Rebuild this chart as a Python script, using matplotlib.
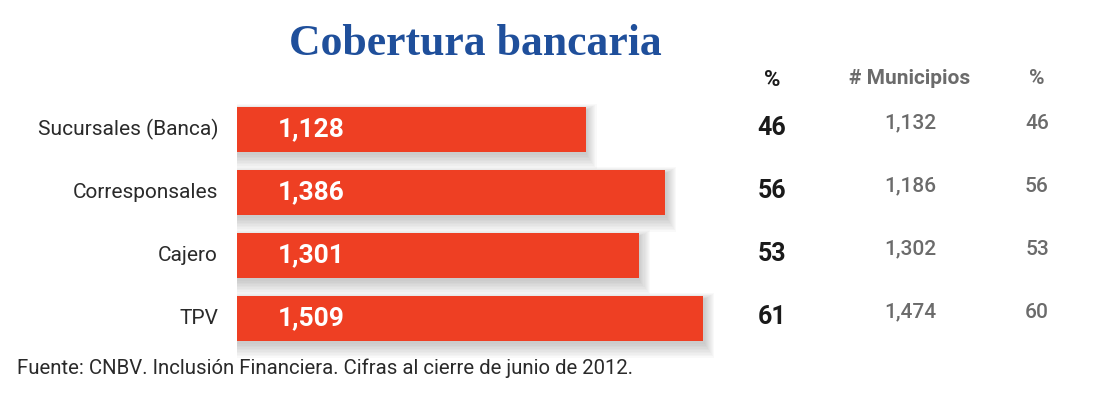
import matplotlib.pyplot as plt
from matplotlib.transforms import blended_transform_factory

# data
categories = ["Sucursales (Banca)", "Corresponsales", "Cajero", "TPV"]
values = [1128, 1386, 1301, 1509]
pct = [46, 56, 53, 61]
municipios = [1132, 1186, 1302, 1474]
pct_mun = [46, 56, 53, 60]

W, H = 1100, 411
fig = plt.figure(figsize=(W / 100, H / 100), dpi=100)
fig.patch.set_facecolor("white")

# bars axes: starts at pixel 237, ~0.309 px per unit
x0 = 237
scale = 0.309
ax = fig.add_axes([x0 / W, 0, 1 - x0 / W, 1])
ax.set_xlim(0, (W - x0) / scale)
# row i centred at pixel 129.5 + 63*i (from the top)
ax.set_ylim((H - 129.5) / 63, -129.5 / 63)
ax.axis("off")

ypos = list(range(len(categories)))
bar_h = 45 / 63

# soft shadow
for k in range(10):
    ax.barh([y + 0.05 + k * 0.007 for y in ypos], [v + 4 + k * 3.5 for v in values],
            height=bar_h + k * 0.035, color="#555555", alpha=0.03, zorder=1)
ax.barh(ypos, values, height=bar_h, color="#ee3f23", zorder=2)

for y, v in zip(ypos, values):
    ax.text((311 - x0) / scale, y, f"{v:,}", color="white", fontsize=19,
            fontweight="bold", family="Roboto", ha="center", va="center", zorder=3)

tr = blended_transform_factory(fig.transFigure, ax.transData)
for y, c in zip(ypos, categories):
    ax.text(218 / W, y, c, transform=tr, ha="right", va="center", fontsize=15,
            family="Roboto", color="#2a2a2a")
for y, p, m, pm in zip(ypos, pct, municipios, pct_mun):
    ax.text(772 / W, y - 0.02, str(p), transform=tr, ha="center", va="center",
            fontsize=18, fontweight="bold", family="Roboto", color="#1a1a1a")
    ax.text(910 / W, y - 0.1, f"{m:,}", transform=tr, ha="center", va="center",
            fontsize=15, family="Roboto", fontweight="medium", color="#6b6b6b")
    ax.text(1037 / W, y - 0.1, str(pm), transform=tr, ha="center", va="center",
            fontsize=15, family="Roboto", fontweight="medium", color="#6b6b6b")

# headers
fig.text(772 / W, 1 - 80 / H, "%", ha="center", va="center", fontsize=16,
         fontweight="bold", family="Roboto", color="#1a1a1a")
fig.text(910 / W, 1 - 79 / H, "# Municipios", ha="center", va="center", fontsize=15,
         fontweight="bold", family="Roboto", color="#6b6b6b")
fig.text(1037 / W, 1 - 79 / H, "%", ha="center", va="center", fontsize=15,
         fontweight="bold", family="Roboto", color="#6b6b6b")

# title
fig.text(475 / W, 1 - 44 / H, "Cobertura bancaria", ha="center", va="center",
         fontsize=31.5, fontweight="bold", family="Liberation Serif", color="#1f4f9b")

# source
fig.text(17 / W, 1 - 368 / H, "Fuente: CNBV. Inclusión Financiera. Cifras al cierre de junio de 2012.",
         ha="left", va="center", fontsize=14.7, family="Roboto", color="#2a2a2a")

fig.savefig("out.png", dpi=100, facecolor="white")
